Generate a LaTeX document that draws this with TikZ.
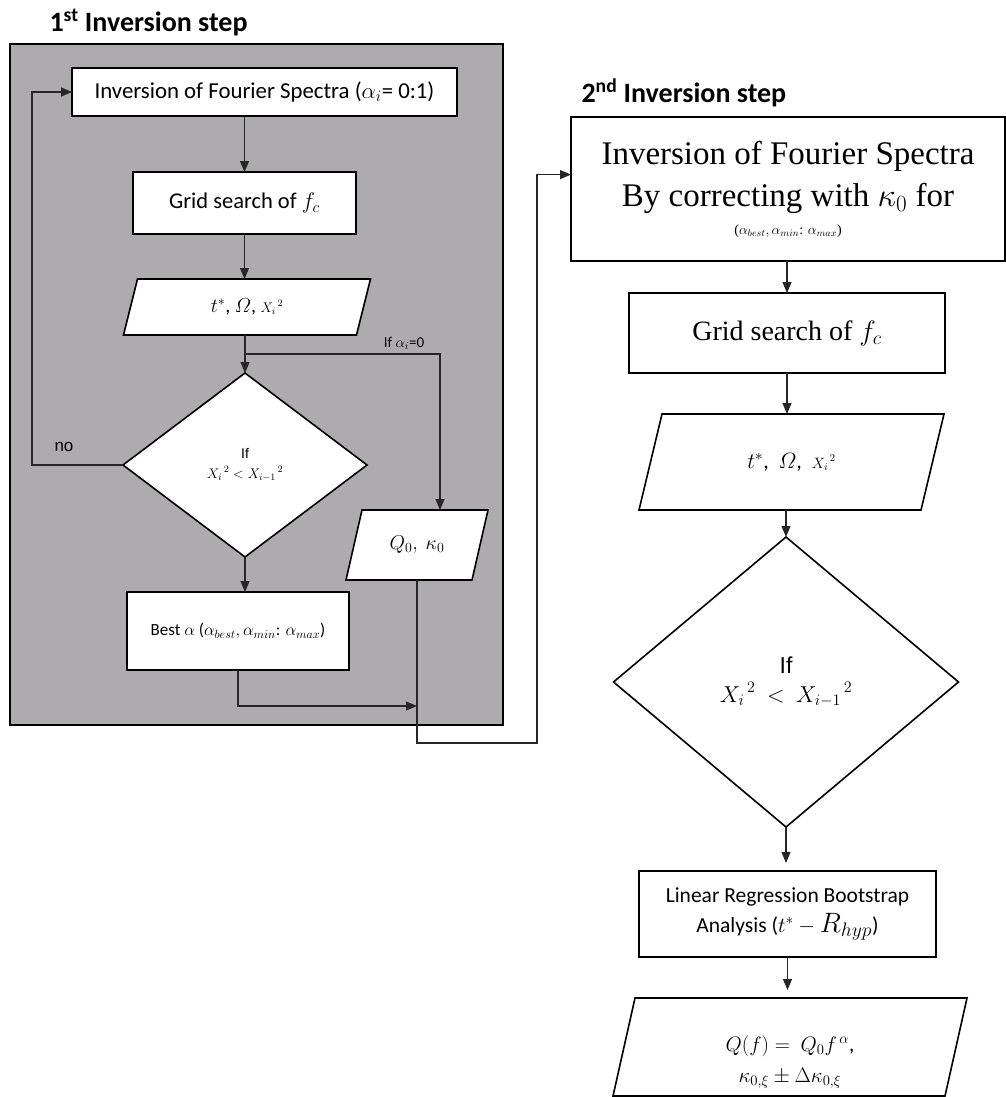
\RequirePackage{fix-cm}
\documentclass[tikz,border=0pt]{standalone}
\usepackage{amsmath}
\usepackage{fontspec}
\setmainfont{Carlito}
\newfontfamily\tnr{Liberation Serif}
\newfontfamily\arl{Liberation Sans}
\usetikzlibrary{shapes.geometric,arrows.meta,calc}
\pgfdeclarelayer{bg}
\pgfdeclarelayer{fillayer}
\pgfsetlayers{bg,fillayer,main}
\definecolor{framegray}{RGB}{173,171,173}
\tikzset{
  box/.style={draw, line width=1.6pt, fill=white, inner sep=2pt, outer sep=0pt, align=center},
  ghost/.style={inner sep=2pt, outer sep=0pt, align=center},
  dia/.style={diamond, draw, line width=1.6pt, fill=white, inner sep=0pt, outer sep=0pt, align=center},
  conn/.style={line width=1.1pt, draw=black!85},
  arr/.style={conn, -{Triangle[length=11pt,width=9pt]}},
  ttl/.style={anchor=base west, font=\bfseries\fontsize{28}{32}\selectfont},
}
\newcommand\paral[2]{%
  \begin{pgfonlayer}{fillayer}
  \draw[line width=1.6pt, fill=white] ($(#1.north west)+(#2,0)$) -- ($(#1.north east)+(#2,0)$) -- ($(#1.south east)-(#2,0)$) -- ($(#1.south west)-(#2,0)$) -- cycle;
  \end{pgfonlayer}}
\begin{document}
\begin{tikzpicture}[x=1pt,y=-1pt]
\useasboundingbox (0,0) rectangle (1005,1097);

% ---------- first inversion step ----------
\node[ttl] (t1) at (46,32) {1\textsuperscript{st} Inversion step};
\begin{pgfonlayer}{bg}
\node[draw, line width=1.6pt, fill=framegray, minimum width=493pt, minimum height=681pt, outer sep=0pt] (frame1) at (256.5,384.5) {};
\end{pgfonlayer}

\node[box, minimum width=385pt, minimum height=48pt, font=\fontsize{22.8}{26}\selectfont] (n1) at (264.5,92) {Inversion of Fourier Spectra ($\alpha_i$= 0:1)};
\node[box, minimum width=223pt, minimum height=62pt, font=\fontsize{22.5}{26}\selectfont] (n2) at (244.5,203) {Grid search of $f_c$};
\node[ghost, minimum width=233pt, minimum height=56pt, font=\fontsize{20}{24}\selectfont] (p1) at (247,307) {$t^*$, $\varOmega$, {\fontsize{14}{14}\selectfont${X_i}^{\,2}$}};
\paral{p1}{7}
\node[dia, minimum width=244pt, minimum height=184pt, font=\fontsize{14}{20}\selectfont] (d1) at (245,465) {{\arl If}\\${X_i}^{\,2} < {X_{i-1}}^{\,2}$};
\node[ghost, minimum width=126pt, minimum height=70pt, font=\fontsize{20}{24}\selectfont] (q0) at (417,545) {$Q_0,\ \kappa_0$};
\paral{q0}{8}
\node[box, minimum width=222pt, minimum height=78pt, font=\fontsize{17}{20}\selectfont] (b1) at (238,631) {Best $\alpha$ ($\alpha_{best}, \alpha_{min}$: $\alpha_{max}$)};

\node[font=\fontsize{15}{18}\selectfont] (lab1) at (404,343) {If $\alpha_i$=0};
\node[font=\arl\fontsize{17}{20}\selectfont] (lab2) at (64,447) {no};

\coordinate (br) at ($(p1.south -| d1.north)!0.5!(d1.north)$);
\coordinate (m1) at (417,706);
\coordinate (j1) at (537,743);

\draw[arr] (n1.south -| n2.north) -- (n2.north);
\draw[arr] (n2.south) -- (n2.south |- p1.north);
\draw[arr] (p1.south -| d1.north) -- (d1.north);
\draw[arr] (br) -| ($(q0.north)+(23,0)$);
\draw[arr] (d1.west) -- ++(-91,0) |- (n1.west);
\draw[arr] (d1.south) -- (d1.south |- b1.north);
\draw[arr] (b1.south) |- (m1);

% ---------- second inversion step ----------
\node[ttl] (t2) at (578,103) {2\textsuperscript{nd} Inversion step};
\node[box, minimum width=434pt, minimum height=144pt, font=\tnr\fontsize{33}{42}\selectfont] (r1) at (788,189) {Inversion of Fourier Spectra\\By correcting with $\kappa_0$ for\\[-14pt]{\fontsize{14}{16}\selectfont($\alpha_{best}, \alpha_{min}$: $\alpha_{max}$)}};
\coordinate (r1in) at ($(r1.north west)!0.4!(r1.south west)$);
\draw[arr] (q0.south) |- (j1) |- (r1in);

\node[box, minimum width=316pt, minimum height=80pt, font=\tnr\fontsize{28}{32}\selectfont] (r2) at (787,333) {Grid search of $f_c$};
\node[ghost, minimum width=282pt, minimum height=96pt, font=\fontsize{22}{26}\selectfont] (p2) at (791.5,462) {$t^*$, \ $\varOmega$, \ {\fontsize{15}{15}\selectfont${X_i}^{\,2}$}};
\paral{p2}{11.5}
\node[dia, minimum width=345pt, minimum height=290pt, font=\fontsize{23}{29}\selectfont] (d2) at (786,682) {{\arl If}\\${X_i}^{\,2}\ <\ {X_{i-1}}^{\,2}$};
\node[box, minimum width=297pt, minimum height=86pt, font=\fontsize{21.5}{30}\selectfont] (r3) at (787.5,914) {Linear Regression Bootstrap\\Analysis ($t^*-{}${\fontsize{28}{30}\selectfont$R_{hyp}$})};
\node[ghost, minimum width=332pt, minimum height=98pt] (p3) at (790,1047) {};
\paral{p3}{11}
\node[align=center, font=\fontsize{21}{31}\selectfont] (p3t) at (790,1062) {$Q(f) =\ Q_0f^{\,\alpha}$,\\$\kappa_{0,\xi} \pm \Delta\kappa_{0,\xi}$};

\draw[arr] (r1.south -| r2.north) -- (r2.north);
\draw[arr] (r2.south) -- (r2.south |- p2.north);
\draw[arr] (p2.south -| d2.north) -- (d2.north);
\draw[arr, shorten >=8pt] (d2.south) -- (d2.south |- r3.north);
\draw[arr, shorten >=8pt] (r3.south) -- (r3.south |- p3.north);
\end{tikzpicture}
\end{document}
